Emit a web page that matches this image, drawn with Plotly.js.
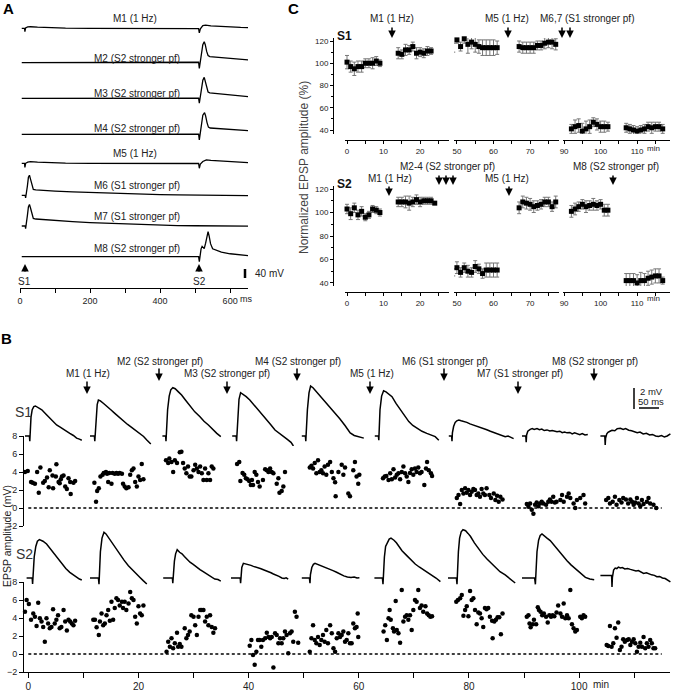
<!DOCTYPE html>
<html>
<head>
<meta charset="utf-8">
<script src="https://cdn.plot.ly/plotly-3.0.1.min.js"></script>
<style>
html,body{margin:0;padding:0;background:#fff;}
#chart{width:687px;height:691px;}
</style>
</head>
<body>
<div id="chart"></div>
<script>
// ======================= DATA =======================
// ---- Panel A: sweeps, [time (ms), mV relative to resting level]
const sweepLabels = ['M1 (1 Hz)','M2 (S2 stronger pf)','M3 (S2 stronger pf)','M4 (S2 stronger pf)',
                     'M5 (1 Hz)','M6 (S1 stronger pf)','M7 (S1 stronger pf)','M8 (S2 stronger pf)'];
const sweepM1 = [[5,0],[13,0],[14,-15],[16,2],[22,6],[30,7],[50,5],[80,3],[130,1],[200,0],[300,0],[400,-1],[500,-1],[510,-1],[512,-20],[515,-2],[522,12],[530,14],[545,11],[570,8],[600,6],[630,4],[652,3]];
const sweepM2 = [[5,0],[100,0],[200,1],[300,1],[400,2],[500,2],[510,2],[512,-25],[514,0],[518,40],[522,80],[526,93],[529,80],[533,50],[537,32],[542,27],[555,25],[575,22],[600,19],[625,15],[652,12]];
const sweepM3 = [[5,0],[100,0],[200,0],[300,1],[400,1],[500,1],[510,1],[512,-22],[514,0],[518,40],[522,80],[526,93],[529,78],[533,48],[537,28],[542,24],[555,22],[575,18],[600,14],[625,10],[652,7]];
const sweepM4 = [[5,0],[100,0],[200,0],[300,0],[400,1],[500,1],[510,1],[512,-25],[514,0],[518,45],[522,85],[527,96],[530,82],[534,52],[538,32],[543,28],[555,27],[575,25],[600,22],[625,19],[652,16]];
const sweepM5 = [[5,0],[13,0],[14,-18],[16,0],[22,5],[30,7],[50,5],[80,3],[130,1],[200,0],[300,0],[400,0],[500,-1],[510,-1],[512,-22],[515,-3],[522,8],[532,15],[545,13],[570,10],[600,7],[630,5],[652,3]];
const sweepM6 = [[5,0],[15,0],[16,-12],[18,5],[21,40],[24,80],[27,89],[30,72],[34,42],[38,26],[45,24],[60,22],[100,19],[150,15],[200,12],[250,9],[300,7],[350,5],[400,3],[450,2],[500,1],[550,0],[600,-1],[652,-1]];
const sweepM7 = [[5,0],[15,0],[16,-12],[18,5],[21,45],[24,85],[27,96],[30,80],[34,50],[38,34],[45,31],[60,29],[100,24],[150,19],[200,15],[250,12],[300,9],[350,6],[400,4],[450,2],[500,1],[550,0],[600,0],[652,-1]];
const sweepM8 = [[5,0],[100,0],[200,0],[300,1],[350,2],[400,2],[450,1],[500,0],[510,0],[512,-22],[514,2],[517,35],[520,46],[523,40],[526,36],[530,60],[534,100],[537,111],[540,92],[544,58],[550,35],[558,30],[575,20],[600,13],[625,8],[652,5]];
const sweepsA = [sweepM1,sweepM2,sweepM3,sweepM4,sweepM5,sweepM6,sweepM7,sweepM8];

// ---- Panel B: EPSP sample traces, [time (ms), mV]
const bS1Sweeps = [
 [[0,0],[11,0],[12,-0.5],[13,0.3],[15,1.8],[18,2.5],[22,2.8],[26,2.86],[32,2.75],[42,2.5],[52,2.1],[62,1.7],[70,1.35],[79,1.05],[88,0.85],[96,0.63],[104,0.45],[112,0.25],[121,0.05],[129,-0.2],[136,-0.3],[142,-0.4]],
 [[0,0],[11,0],[12,-0.5],[13,0.3],[15,2.0],[18,3.0],[21,3.43],[26,3.35],[34,3.1],[42,2.86],[52,2.5],[62,2.16],[72,1.8],[83,1.46],[94,1.1],[104,0.83],[115,0.5],[125,0.25],[134,-0.05],[142,-0.38],[152,-0.76]],
 [[1,0],[9,0],[10,-0.5],[11,0.5],[14,2.5],[18,3.8],[22,4.4],[27,4.6],[33,4.5],[41,4.2],[49,3.9],[59,3.4],[70,2.86],[82,2.3],[95,1.84],[105,1.4],[116,1.05],[126,0.65],[137,0.25],[147,-0.06]],
 [[3,0],[13,0],[14,-0.5],[15,0.4],[17,2.2],[20,3.5],[24,4.13],[30,4.0],[38,3.75],[47,3.43],[57,3.0],[68,2.5],[78,2.0],[89,1.52],[100,1.05],[110,0.57],[120,0.25],[131,-0.06],[140,-0.3],[150,-0.6],[156,-0.95]],
 [[2,0],[11,0],[12,-0.5],[13,0.4],[16,2.5],[20,4.1],[24,4.76],[30,4.6],[38,4.25],[47,3.9],[60,3.3],[72,2.8],[85,2.2],[97,1.65],[110,1.0],[123,0.3],[133,0.05],[145,-0.1],[157,-0.2]],
 [[2,0],[11,0],[12,-0.4],[13,0.5],[15,2.5],[19,3.8],[24,4.3],[30,4.2],[37,4.0],[45,3.75],[55,3.1],[66,2.48],[77,1.9],[87,1.37],[97,1.0],[107,0.73],[120,0.45],[132,0.25],[143,0.1],[153,-0.06],[162,-0.4]],
 [[2,0],[9,0],[10,-0.5],[11,0.3],[14,0.9],[18,1.3],[22,1.45],[27,1.52],[33,1.45],[40,1.38],[47,1.3],[55,1.15],[63,1.05],[72,0.98],[80,0.85],[89,0.7],[97,0.6],[106,0.45],[114,0.35],[122,0.22],[130,0.1],[137,0.05],[143,-0.06],[150,0.0],[157,-0.15],[164,-0.25]],
 [[2.5,0],[12,0],[13,-0.6],[14,0.1],[17,0.45],[20,0.55],[23,0.63],[28,0.7],[33,0.62],[40,0.7],[46,0.6],[52,0.66],[58,0.52],[65,0.58],[72,0.48],[78,0.52],[84,0.45],[90,0.41],[97,0.46],[103,0.32],[109,0.38],[115,0.3],[122,0.34],[128,0.2],[134,0.3],[140,0.22],[147,0.12],[153,0.24],[160,0.1],[167,0.15]],
 [[1,0],[12,0],[13,-0.85],[14,-0.2],[17,0.2],[20,0.35],[25,0.45],[30,0.55],[37,0.5],[43,0.7],[51,0.73],[58,0.62],[64,0.7],[72,0.55],[79,0.5],[86,0.4],[93,0.32],[100,0.38],[108,0.2],[116,0.25],[124,0.1],[131,0.15],[139,0.0],[146,-0.05],[154,0.05],[161,-0.1],[168,0.0],[176,0.2]]
];
const bS2Sweeps = [
 [[4,0],[18,0],[19,-0.57],[20,0.2],[23,2.0],[27,3.0],[31,3.5],[36,3.65],[45,3.5],[54,3.24],[62,2.85],[71,2.44],[81,1.9],[92,1.33],[102,0.9],[112,0.54],[121,0.3],[129,0.06],[136,-0.1],[142,-0.19]],
 [[0,0],[21,0],[22.5,-0.6],[23.5,0.3],[26,2.5],[30,3.8],[35,4.35],[40,4.2],[47,3.8],[54,3.4],[64,2.85],[75,2.29],[85,1.7],[96,1.17],[106,0.75],[117,0.38],[125,0.05],[133,-0.25],[142,-0.57]],
 [[3,0],[26,0],[27,-0.5],[28,0.3],[31,1.6],[34,2.3],[38,2.7],[44,2.45],[50,2.3],[56,2.05],[62,1.8],[70,1.5],[78,1.3],[87,1.0],[95,0.8],[103,0.6],[112,0.38],[120,0.2],[127,0.0],[132,-0.1],[140,-0.15],[147,-0.3]],
 [[0,0],[23,0],[24,-0.5],[25,0.3],[27,1.0],[31,1.4],[37,1.35],[44,1.25],[50,1.2],[56,1.11],[63,1.05],[69,0.95],[75,0.88],[81,0.79],[88,0.7],[94,0.6],[100,0.5],[106,0.38],[113,0.3],[120,0.15],[127,0.0],[133,-0.05],[138,0.02],[143,-0.1]],
 [[2,0],[21,0],[22.5,-0.5],[23.5,0.3],[27,1.0],[31,1.3],[35,1.4],[42,1.3],[50,1.18],[60,1.0],[70,0.85],[80,0.7],[89,0.55],[98,0.35],[107,0.2],[116,0.1],[125,0.05],[133,0.1],[140,0.0],[146,0.02]],
 [[1,0],[21,0],[22.5,-0.6],[23.5,0.3],[26,2.0],[29,3.0],[34,3.5],[38,3.7],[42.5,3.8],[50,3.6],[56,3.35],[61,3.08],[70,2.6],[82,2.13],[92,1.7],[103,1.33],[113,1.05],[124,0.79],[134,0.55],[145,0.29],[155,0.0],[166,-0.35]],
 [[0,0],[21,0],[22.5,-0.6],[23.5,0.4],[26,2.5],[29,3.8],[33,4.4],[37.5,4.6],[44,4.5],[50,4.25],[56,3.97],[66,3.35],[77,2.76],[87,2.25],[97.5,1.8],[108,1.4],[118,1.0],[130,0.6],[143,0.29],[155,-0.05],[168,-0.48]],
 [[2.5,0],[34,0],[36,-0.6],[37,0.4],[40,2.5],[44,3.6],[48,4.05],[52.5,4.2],[58,4.0],[65,3.8],[73,3.56],[83,3.1],[94,2.6],[104,2.1],[115,1.65],[125,1.25],[136,0.86],[148,0.45],[161,0.06],[172,-0.1],[183,-0.16]],
 [[1,0.25],[29,0.25],[30,-0.85],[31,0.05],[34,0.75],[38,0.95],[42,0.9],[46,1.04],[51,0.95],[56,0.99],[62,0.87],[69,0.91],[76,0.82],[83,0.75],[90,0.67],[96,0.71],[103,0.55],[109,0.44],[116,0.49],[123,0.35],[129,0.3],[136,0.25],[142,0.12],[149,0.15],[156,0.0],[163,-0.05],[169,-0.2],[176,-0.38]]
];

// ---- Panel B: EPSP amplitude time course, [time (min), amplitude (mV)]
const bS1Points = [
 [-0.6,4.0],[-0.1,4.1],[0.5,2.9],[0.8,2.8],[1.2,2.7],[1.6,4.0],[1.9,1.7],[2.2,4.5],[2.7,2.8],[3.0,3.0],[3.4,3.4],[3.7,2.3],[3.9,4.2],[4.4,3.6],[4.5,2.2],[5.0,3.5],[5.1,4.85],[5.5,2.9],[5.7,2.75],[5.9,3.2],[6.1,3.5],[6.4,3.6],[6.7,2.4],[7.0,2.1],[7.3,3.3],[7.6,2.9],[7.7,1.55],[8.2,2.8],[8.5,3.0],
 [12.0,2.8],[12.3,0.7],[12.5,1.9],[12.8,2.2],[13.1,3.5],[13.5,3.7],[13.7,3.9],[14.1,4.0],[14.3,3.8],[14.5,2.9],[14.7,3.9],[15.1,2.7],[15.3,3.9],[15.7,3.8],[16.0,3.9],[16.3,3.8],[16.6,3.9],[17.0,3.8],[17.2,2.7],[17.5,2.4],[17.8,2.2],[18.2,2.3],[18.5,3.7],[18.8,4.2],[19.1,4.4],[19.4,2.9],[19.7,2.4],[20.0,3.5],[20.3,3.1],[20.6,4.9],[20.9,3.2],
 [25.0,5.3],[25.4,5.0],[25.6,5.5],[26.0,5.1],[26.3,4.0],[26.6,5.3],[27.0,5.0],[27.5,6.2],[27.8,6.25],[28.1,5.0],[28.4,4.4],[28.7,3.85],[29.0,4.6],[29.3,3.5],[29.6,3.5],[30.0,4.2],[30.3,4.8],[30.6,4.4],[30.9,4.0],[31.2,4.6],[31.5,3.85],[31.8,3.1],[32.1,4.4],[32.4,3.1],[32.7,3.85],[33.0,3.1],[33.3,4.6],[33.6,4.4],
 [37.9,4.9],[38.3,5.1],[38.5,3.0],[38.9,3.9],[39.2,3.7],[39.5,3.3],[39.8,3.2],[40.1,3.0],[40.4,2.55],[40.6,3.1],[40.8,2.55],[41.1,4.0],[41.4,3.7],[41.7,2.9],[42.0,2.4],[42.6,3.1],[43.0,4.3],[43.3,4.2],[43.6,4.0],[43.9,4.4],[44.2,4.0],[44.5,3.85],[45.1,2.7],[45.4,3.3],[45.6,1.7],[46.0,1.9],[46.3,2.4],[46.6,4.0],
 [51.1,4.5],[51.4,4.7],[51.7,4.4],[52.0,5.0],[52.3,3.85],[52.6,5.3],[52.9,4.0],[53.2,4.2],[53.5,3.85],[53.8,4.6],[54.1,3.7],[54.4,4.8],[54.8,5.1],[55.1,4.0],[55.4,3.3],[55.7,2.85],[55.8,1.3],[56.3,4.0],[56.9,4.8],[57.2,3.7],[57.5,4.5],[58.1,1.6],[58.4,1.3],[59.0,4.2],[59.3,5.1],[59.6,3.5],[59.9,2.7],[60.1,3.7],
 [64.4,3.3],[64.7,3.5],[65.0,3.55],[65.4,3.1],[65.7,3.85],[66.0,3.2],[66.3,4.3],[66.6,3.4],[66.9,3.7],[67.2,3.85],[67.5,3.2],[67.8,4.0],[68.1,4.6],[68.4,3.85],[68.7,3.5],[69.0,2.9],[69.3,3.9],[69.6,4.3],[69.9,3.7],[70.2,4.4],[70.5,4.0],[70.8,4.5],[71.1,3.85],[71.4,4.0],[71.9,2.55],[72.2,4.4],[72.4,5.1],[72.7,4.2],[73.1,3.85],[73.3,3.55],
 [77.8,1.1],[78.1,1.45],[78.4,0.45],[78.7,2.0],[79.0,1.6],[79.3,2.2],[79.6,1.7],[79.9,2.0],[80.2,1.45],[80.5,1.8],[80.8,2.1],[81.1,2.0],[81.4,1.45],[81.7,1.6],[82.0,1.25],[82.3,2.1],[82.6,1.6],[82.9,1.45],[83.2,2.2],[83.7,1.45],[84.0,1.1],[84.5,1.6],[84.8,0.9],[85.1,1.35],[85.4,0.7],[85.7,1.25],[86.1,0.95],
 [90.5,0.45],[90.8,0.15],[91.1,0.5],[91.4,-0.2],[91.7,-0.65],[92.0,0.35],[92.3,0.6],[92.6,0.2],[92.9,0.5],[93.2,0.7],[93.5,0.5],[94.0,0.35],[94.4,0.7],[94.7,0.95],[95.0,0.7],[95.3,1.25],[95.6,0.6],[95.9,0.7],[96.6,0.9],[96.9,1.45],[97.2,0.7],[97.8,1.25],[98.1,1.6],[98.4,1.1],[99.0,0.5],[99.3,0.0],[99.6,0.9],[100.2,1.1],[100.8,1.45],[101.1,0.5],
 [104.9,0.9],[105.3,1.1],[105.6,0.5],[106.1,0.7],[106.5,1.25],[106.8,0.35],[107.3,0.9],[107.7,0.6],[108.0,1.1],[108.5,0.95],[108.9,0.5],[109.3,0.95],[109.6,0.7],[109.9,0.35],[110.2,0.6],[110.5,1.1],[110.8,0.5],[111.1,0.2],[111.4,0.9],[111.7,0.45],[112.3,0.7],[112.6,1.1],[112.9,0.5],[113.5,0.35],[114.0,0.0]
];
const bS2Points = [
 [-0.6,4.7],[-0.3,6.0],[0.1,5.55],[0.5,3.8],[0.9,4.5],[1.2,4.15],[1.5,3.1],[1.8,5.7],[2.1,3.96],[2.4,3.6],[2.7,3.0],[3.0,1.37],[3.3,3.96],[3.6,3.4],[3.9,2.85],[4.2,3.0],[4.5,4.96],[4.8,3.4],[5.1,3.8],[5.4,4.3],[5.7,2.85],[6.0,3.0],[6.4,4.9],[6.7,3.6],[7.0,2.6],[7.3,3.8],[7.6,3.6],[7.9,3.4],[8.2,3.2],[8.5,3.7],
 [11.8,3.8],[12.1,3.8],[12.4,2.96],[12.8,2.1],[13.0,3.6],[13.3,4.5],[13.6,3.2],[13.9,3.4],[14.2,4.3],[14.5,4.9],[14.8,3.7],[15.1,5.8],[15.4,3.8],[15.7,5.1],[16.0,6.2],[16.3,6.0],[16.6,5.4],[17.0,5.8],[17.2,5.1],[17.5,5.8],[17.8,4.9],[18.2,5.6],[18.5,6.9],[18.8,6.2],[19.1,6.0],[19.4,4.15],[19.7,3.4],[20.0,5.3],[20.3,4.5],[20.6,4.3],[20.9,5.4],
 [25.1,0.26],[25.4,1.37],[25.7,0.8],[26.0,1.74],[26.3,0.63],[26.6,1.2],[27.0,2.37],[27.2,0.8],[27.5,1.1],[27.8,0.8],[28.4,2.85],[28.7,1.74],[29.0,2.1],[29.3,2.5],[29.6,4.3],[30.0,4.15],[30.3,3.2],[30.6,2.1],[30.9,4.15],[31.2,4.9],[31.5,4.9],[31.8,4.9],[32.1,3.6],[32.4,4.15],[32.7,3.2],[33.0,4.3],[33.3,3.0],[33.6,2.37],[33.9,2.85],
 [40.2,0.93],[40.5,1.55],[40.8,-0.1],[41.1,-1.2],[41.4,0.26],[41.7,1.55],[42.0,1.55],[42.3,0.8],[42.6,1.55],[43.0,1.74],[43.3,2.37],[43.6,1.9],[43.9,1.74],[44.2,1.9],[44.5,-1.5],[44.8,2.3],[45.1,2.1],[45.4,1.2],[45.7,1.74],[46.0,1.2],[46.3,1.74],[46.6,2.5],[46.9,2.1],[47.2,0.07],[47.5,2.3],[47.8,2.5],[48.1,1.37],[48.4,4.7],[48.7,4.15],[49.0,1.26],
 [51.1,0.26],[51.4,1.74],[51.7,3.2],[52.0,1.55],[52.3,1.2],[52.6,1.9],[52.9,1.0],[53.2,1.55],[53.5,2.1],[53.8,1.37],[54.1,2.67],[54.4,1.2],[54.8,3.2],[55.1,2.3],[55.4,0.63],[55.7,0.26],[56.0,1.74],[56.3,2.3],[56.6,1.9],[56.9,2.1],[57.2,2.5],[57.5,1.37],[57.8,1.55],[58.1,2.3],[58.4,1.2],[58.7,1.2],[59.0,3.4],[59.3,2.85],[59.6,3.0],[59.8,4.5],[59.9,1.9],
 [64.5,2.5],[64.8,3.2],[65.1,1.55],[65.4,3.96],[65.6,4.9],[65.8,3.8],[66.2,2.85],[66.4,2.5],[66.7,5.9],[66.9,2.67],[67.2,2.3],[67.5,1.26],[67.8,7.1],[68.1,3.6],[68.4,4.15],[68.7,4.3],[69.0,3.8],[69.3,4.3],[69.6,2.67],[69.9,4.9],[70.2,6.0],[70.5,5.8],[70.8,7.1],[71.1,5.1],[71.4,5.4],[71.7,4.7],[72.1,5.3],[72.4,4.5],[72.7,4.3],[73.0,4.15],[73.3,4.2],
 [77.7,5.8],[78.0,6.0],[78.4,6.2],[78.7,6.55],[79.0,4.26],[79.3,4.9],[79.6,5.3],[79.9,4.2],[80.2,7.0],[80.5,6.0],[80.8,6.2],[81.1,4.9],[81.4,3.3],[81.7,4.6],[82.0,4.5],[82.3,3.96],[82.6,3.0],[82.9,5.1],[83.2,4.96],[83.5,5.1],[83.8,4.15],[84.2,3.7],[84.3,1.74],[84.6,3.6],[84.9,3.8],[85.2,4.07],[85.5,4.07],[85.8,2.2],[86.1,4.5],
 [90.5,4.15],[90.8,4.3],[91.0,3.4],[91.2,2.96],[91.6,3.3],[91.8,3.8],[92.2,3.3],[92.5,5.2],[92.7,4.9],[93.0,4.7],[93.3,4.3],[93.6,4.5],[94.0,4.15],[94.3,3.5],[94.6,4.3],[94.9,4.15],[95.2,4.3],[95.5,4.2],[95.9,4.6],[96.2,5.4],[96.6,4.5],[96.9,4.15],[97.2,5.6],[97.5,3.96],[97.8,4.3],[98.1,3.96],[98.4,7.1],[98.7,3.3],[99.0,2.85],[99.3,2.5],[99.6,2.67],[100.2,4.15],[100.5,3.96],[100.8,4.3],[101.1,4.15],
 [105.0,1.0],[105.3,0.9],[105.6,3.1],[105.9,0.8],[106.2,1.2],[106.5,2.85],[106.8,1.8],[107.1,3.5],[107.4,0.44],[107.7,0.8],[108.0,1.63],[108.3,1.37],[108.7,1.55],[109.0,1.63],[109.3,1.0],[109.6,1.37],[109.9,1.63],[110.2,1.2],[110.5,0.26],[110.8,0.8],[111.1,1.26],[111.4,0.8],[111.7,1.9],[112.0,0.63],[112.3,1.2],[112.6,0.8],[112.9,1.55],[113.2,1.2],[113.5,0.63],[113.8,0.63]
];
const bMarkerLabels = ['M1 (1 Hz)','M2 (S2 stronger pf)','M3 (S2 stronger pf)','M4 (S2 stronger pf)',
                       'M5 (1 Hz)','M6 (S1 stronger pf)','M7 (S1 stronger pf)','M8 (S2 stronger pf)'];

// ---- Panel C: normalized EPSP amplitude (%), 1-min bins, mean and SEM
const cTimeA  = [0,1,2,3,4,5,6,7,8,9];
const cTimeB1 = [14,15,16,17,18,19,20,21,22,23];
const cTimeB2 = [14,15,16,17,18,19,20,21,22,23,24];
const cTimeC  = [49,50,51,52,53,54,55,56,57,58,59,60,61];
const cTimeD  = [67,68,69,70,71,72,73,74,75,76,77];
const cTimeE  = [92,93,94,95,96,97,98,99,100,101,102];
const cTimeF  = [107,108,109,110,111,112,113,114,115,116,117];
const cS1A = [101,97,95,97,97,100,100,100,102,100];
const cS1AErr = [6,5,6,5,5,4,4,5,4,3];
const cS1B = [109,108,112,112,115,109,110,109,111,111];
const cS1BErr = [5,4,5,4,4,5,4,4,4,3];
const cS1C = [114,121,115,122,117,119,117,115,114,114,114,114,114];
const cS1CErr = [4,3,4,4,8,6,7,6,7,7,7,7,6];
const cS1D = [115,114,114,114,114,116,116,118,119,119,117];
const cS1DErr = [5,5,5,5,5,4,4,5,5,6,5];
const cS1E = [41,43,44,39,41,43,47,45,43,43,43];
const cS1EErr = [4,6,6,7,7,6,4,5,5,5,4];
const cS1F = [42,41,40,39,40,41,43,42,43,43,41];
const cS1FErr = [4,4,4,4,4,4,4,5,4,4,4];
const cS2A = [103,99,104,98,101,96,98,103,102,100];
const cS2AErr = [4,5,4,4,4,3,3,3,3,3];
const cS2B = [109,109,109,108,109,111,109,110,110,110,108];
const cS2BErr = [4,4,5,6,4,4,4,3,3,3,1];
const cS2C = [49,53,49,53,50,49,54,52,48,51,51,51,51];
const cS2CErr = [3,5,4,4,5,4,5,4,4,6,6,6,6];
const cS2D = [104,109,108,107,105,106,107,109,109,105,109];
const cS2DErr = [5,5,5,5,5,4,4,4,4,4,5];
const cS2E = [101,103,105,107,105,106,107,106,107,102,102];
const cS2EErr = [5,5,4,4,5,4,5,4,4,5,5];
const cS2F = [42,42,42,40,42,42,44,45,46,46,42];
const cS2FErr = [6,6,6,7,7,6,6,6,6,6,3];

// ======================= LAYOUT HELPERS =======================
const W = 687, H = 691;
const fx = p => p / W;
const fy = p => 1 - p / H;
const FONT = 'Liberation Sans, Arial, Helvetica, sans-serif';
const TXT = '#222';

const traces = [];
const layout = {
  width: W, height: H, margin: {l:0, r:0, t:0, b:0},
  paper_bgcolor: '#fff', plot_bgcolor: 'rgba(0,0,0,0)',
  showlegend: false, hovermode: false,
  font: {family: FONT, size: 10, color: TXT},
  annotations: [], shapes: []
};
const hidden = (domain, range, anchor) => ({domain, range, anchor, visible:false, fixedrange:true, showgrid:false, zeroline:false});
const axBase = () => ({showline:true, linecolor:'#000', linewidth:1, ticks:'outside', ticklen:4, tickwidth:1,
  tickcolor:'#000', showgrid:false, zeroline:false, fixedrange:true, tickfont:{family:FONT, size:8, color:TXT}});
function txt(text, x, y, size, extra) {
  return Object.assign({text, x: fx(x), y: fy(y), xref:'paper', yref:'paper', showarrow:false,
    xanchor:'center', yanchor:'middle', font:{family:FONT, size:size||10, color:TXT}}, extra||{});
}
function arrow(x, yTail, yTip) {
  return {text:'', x: fx(x), y: fy(yTip), xref:'paper', yref:'paper', showarrow:true, ax:0, ay: yTail - yTip,
    arrowhead:2, arrowsize:1, arrowwidth:1.5, arrowcolor:'#000'};
}
function pline(x0, y0, x1, y1, w) {
  return {type:'line', xref:'paper', yref:'paper', x0: fx(x0), y0: fy(y0), x1: fx(x1), y1: fy(y1), line:{color:'#000', width:w||1.5}};
}

// ======================= PANEL A =======================
layout.xaxis = Object.assign(axBase(), {domain:[fx(20), fx(248)], range:[0, 651], anchor:'free', position: fy(288),
  tickmode:'linear', tick0:0, dtick:200, minor:{dtick:100, ticks:'outside', ticklen:4, tickcolor:'#000'},
  tickfont:{family:FONT, size:9, color:TXT}});
const sweepBasePx = [28.3, 62.7, 98.3, 134.3, 163.3, 195.3, 226, 256.7];
const sweepLabelPx = [[135,18],[137,58],[137,93],[137,128],[135,154],[137,185],[137,216],[137,248]];
sweepsA.forEach((s, k) => {
  const yName = k === 0 ? 'y' : 'y' + (k + 1);
  const key = k === 0 ? 'yaxis' : 'yaxis' + (k + 1);
  const b = sweepBasePx[k];
  layout[key] = hidden([fy(b + 8), fy(b - 26)], [-8/0.225, 26/0.225], 'x');
  traces.push({x: s.map(p => p[0]), y: s.map(p => p[1]), xaxis:'x', yaxis:yName, type:'scatter', mode:'lines',
    line:{color:'#000', width:1.3}, hoverinfo:'skip'});
  layout.annotations.push(txt(sweepLabels[k], sweepLabelPx[k][0], sweepLabelPx[k][1], 10));
});
layout.annotations.push(txt('<b>A</b>', 8, 9, 15, {font:{family:FONT, size:15, color:'#000'}}));
layout.annotations.push(arrow(25, 273, 264), arrow(199, 273, 264));
layout.annotations.push(txt('S1', 25, 281, 10), txt('S2', 199, 281, 10));
layout.annotations.push(txt('ms', 246, 299, 9));
layout.shapes.push(pline(245, 269, 245, 278, 2.5));
layout.annotations.push(txt('40 mV', 269, 274, 10));

// ======================= PANEL C =======================
const cSegPx = [[345,449,[-0.55,27.9]],[454,559,[49.2,77.9]],[563,670,[89.7,119]]];
const cRows = [
  {axisY:'yaxis9', y:'y9', dom:[134,38], range:[36.4,122.7], xPos:140, xs:[2,3,4]},
  {axisY:'yaxis10', y:'y10', dom:[286,186], range:[37.4,122.6], xPos:292, xs:[5,6,7]}
];
cRows.forEach(r => {
  layout[r.axisY] = Object.assign(axBase(), {domain:[fy(r.dom[0]), fy(r.dom[1])], range:r.range, anchor:'free',
    position: fx(333), tickmode:'linear', tick0:0, dtick:20, ticklen:3,
    minor:{dtick:10, ticks:'outside', ticklen:2, tickcolor:'#000'}});
  r.xs.forEach((n, i) => {
    const seg = cSegPx[i];
    layout['xaxis' + n] = Object.assign(axBase(), {domain:[fx(seg[0]), fx(seg[1])], range:seg[2], anchor:'free',
      position: fy(r.xPos), tickmode:'linear', tick0:0, dtick:10, ticklen:3,
      minor:{dtick:5, ticks:'outside', ticklen:3, tickcolor:'#000'}});
  });
});
function cTrace(t, v, e, xa, ya) {
  return {x:t, y:v, xaxis:xa, yaxis:ya, type:'scatter', mode:'markers', hoverinfo:'skip', cliponaxis:false,
    marker:{symbol:'square', size:5, color:'#000'},
    error_y:{type:'data', array:e, visible:true, color:'#777', thickness:1, width:2}};
}
traces.push(cTrace(cTimeA, cS1A, cS1AErr, 'x2', 'y9'), cTrace(cTimeB1, cS1B, cS1BErr, 'x2', 'y9'),
            cTrace(cTimeC, cS1C, cS1CErr, 'x3', 'y9'), cTrace(cTimeD, cS1D, cS1DErr, 'x3', 'y9'),
            cTrace(cTimeE, cS1E, cS1EErr, 'x4', 'y9'), cTrace(cTimeF, cS1F, cS1FErr, 'x4', 'y9'),
            cTrace(cTimeA, cS2A, cS2AErr, 'x5', 'y10'), cTrace(cTimeB2, cS2B, cS2BErr, 'x5', 'y10'),
            cTrace(cTimeC, cS2C, cS2CErr, 'x6', 'y10'), cTrace(cTimeD, cS2D, cS2DErr, 'x6', 'y10'),
            cTrace(cTimeE, cS2E, cS2EErr, 'x7', 'y10'), cTrace(cTimeF, cS2F, cS2FErr, 'x7', 'y10'));
layout.annotations.push(
  txt('<b>C</b>', 293, 9, 15, {font:{family:FONT, size:15, color:'#000'}}),
  txt('<b>S1</b>', 345, 36, 12, {font:{family:FONT, size:12, color:'#111'}}),
  txt('<b>S2</b>', 345, 184, 12, {font:{family:FONT, size:12, color:'#111'}}),
  txt('M1 (1 Hz)', 392, 19, 10), arrow(392, 26, 38),
  txt('M5 (1 Hz)', 507, 19, 10), arrow(508, 26, 38),
  txt('M6,7 (S1 stronger pf)', 587, 19, 10), arrow(562, 26, 38), arrow(570, 26, 38),
  txt('M2-4 (S2 stronger pf)', 447, 167, 10), arrow(439, 174, 185), arrow(446, 174, 185), arrow(453, 174, 185),
  txt('M1 (1 Hz)', 390, 178, 10), arrow(389, 185, 196),
  txt('M5 (1 Hz)', 507, 178, 10), arrow(509, 185, 196),
  txt('M8 (S2 stronger pf)', 616, 167, 10), arrow(613, 174, 185),
  txt('Normalized EPSP amplitude (%)', 304, 168, 12, {textangle:-90, font:{family:FONT, size:12, color:'#444'}}),
  txt('min', 653, 149, 8), txt('min', 653, 299, 8)
);

// ======================= PANEL B =======================
layout.xaxis8 = Object.assign(axBase(), {domain:[fx(24), fx(670)], range:[-0.78, 116.5], anchor:'y12',
  tickmode:'array', tickvals:[0,10,20,30,40,50,60,70,80,90,100,110],
  ticktext:['0','','20','','40','','60','','80','','100',''], ticklen:5,
  tickfont:{family:FONT, size:10, color:TXT}});
layout.yaxis11 = Object.assign(axBase(), {domain:[fy(526), fy(436)], range:[-2, 8], anchor:'x8',
  tickmode:'array', tickvals:[-2,0,2,4,6,8], tickfont:{family:FONT, size:9, color:TXT}});
layout.yaxis12 = Object.assign(axBase(), {domain:[fy(672), fy(582)], range:[-2, 8], anchor:'x8',
  tickmode:'array', tickvals:[-2,0,2,4,6,8], tickfont:{family:FONT, size:9, color:TXT}});
const bColPx = [25, 90, 162, 231, 301, 374, 448, 521, 600];
bColPx.forEach((c, i) => {
  layout['xaxis' + (9 + i)] = hidden([fx(c), fx(c + 80)], [0, 200], 'y13');
});
layout.yaxis13 = hidden([fy(446), fy(370)], [-(446-436)/10.5, (436-370)/10.5], 'x9');
layout.yaxis14 = hidden([fy(590), fy(520)], [-(590-578)/10.5, (578-520)/10.5], 'x9');
bS1Sweeps.forEach((s, i) => traces.push({x:s.map(p=>p[0]), y:s.map(p=>p[1]), xaxis:'x'+(9+i), yaxis:'y13',
  type:'scatter', mode:'lines', line:{color:'#000', width:1.5}, hoverinfo:'skip', cliponaxis:false}));
bS2Sweeps.forEach((s, i) => traces.push({x:s.map(p=>p[0]), y:s.map(p=>p[1]), xaxis:'x'+(9+i), yaxis:'y14',
  type:'scatter', mode:'lines', line:{color:'#000', width:1.5}, hoverinfo:'skip', cliponaxis:false}));
traces.push({x:bS1Points.map(p=>p[0]), y:bS1Points.map(p=>p[1]), xaxis:'x8', yaxis:'y11', type:'scatter',
  mode:'markers', marker:{size:4.5, color:'#000'}, hoverinfo:'skip', cliponaxis:false});
traces.push({x:bS2Points.map(p=>p[0]), y:bS2Points.map(p=>p[1]), xaxis:'x8', yaxis:'y12', type:'scatter',
  mode:'markers', marker:{size:4.5, color:'#000'}, hoverinfo:'skip', cliponaxis:false});
['y11','y12'].forEach(ya => layout.shapes.push({type:'line', xref:'x8', yref:ya, x0:0, x1:115, y0:0, y1:0,
  line:{color:'#000', width:1.5, dash:'3px,2.5px'}}));
const bLabelPx = [[88,373],[160,361],[227,373],[298,361],[372,373],[445,361],[520,373],[595,361]];
const bArrowX = [87, 159, 227, 297, 370, 444, 518, 594];
bMarkerLabels.forEach((l, i) => {
  layout.annotations.push(txt(l, bLabelPx[i][0], bLabelPx[i][1], 10));
  const up = bLabelPx[i][1] < 365;
  layout.annotations.push(up ? arrow(bArrowX[i], 367, 381) : arrow(bArrowX[i], 380, 394));
});
layout.annotations.push(
  txt('<b>B</b>', 6, 339, 15, {font:{family:FONT, size:15, color:'#000'}}),
  txt('S1', 23, 412, 14, {font:{family:FONT, size:14, color:'#333'}}),
  txt('S2', 25, 554, 14, {font:{family:FONT, size:14, color:'#333'}}),
  txt('EPSP amplitude (mV)', 7, 536, 10.5, {textangle:-90}),
  txt('2 mV', 651, 392, 9.5), txt('50 ms', 651, 401, 9.5),
  txt('min', 601, 684, 10)
);
layout.shapes.push(pline(634, 388, 634, 409, 1.5), pline(639, 408, 659, 408, 1.5));

Plotly.newPlot('chart', traces, layout, {staticPlot:true, displayModeBar:false});
</script>
</body>
</html>
